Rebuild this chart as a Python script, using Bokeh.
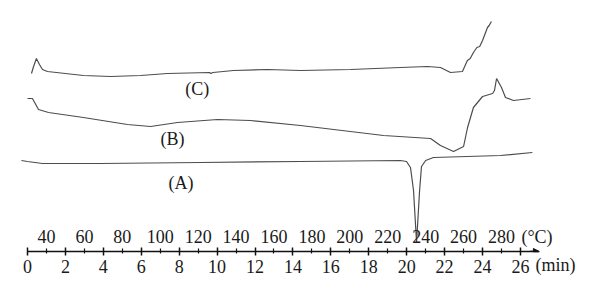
from bokeh.plotting import figure
from bokeh.models import Range1d, FixedTicker, Arrow, NormalHead, LinearAxis
from bokeh.core.properties import value
from bokeh.embed import file_html
from bokeh.resources import INLINE

# ---- data (time in min, heat-flow signal in arbitrary units, endo down) ----
a_time = [-0.32, 0.0, 0.79, 3.85, 9.12, 14.4, 19.67, 19.99, 20.2, 20.36, 20.52,
          20.68, 20.78, 21.0, 21.41, 24.95, 26.63]
a_sig = [91, 90, 88, 88, 89, 90, 91, 90, 84, 61, 9,
         61, 85, 91, 94, 96, 99]

b_time = [0.0, 0.26, 0.58, 1.11, 2.95, 5.27, 6.49, 7.91, 10.02, 11.76, 14.4,
          18.78, 21.26, 21.78, 22.47, 23.0, 23.21, 23.52, 24.0, 24.53, 24.63,
          24.74, 25.0, 25.21, 25.63, 26.53]
b_sig = [153, 153, 142, 139, 134, 127, 125, 129, 132, 131, 126,
         116, 113, 106, 100, 105, 124, 144, 155, 158, 161,
         173, 164, 154, 151, 153]

c_time = [0.21, 0.32, 0.47, 0.63, 0.79, 1.05, 2.95, 4.38, 5.96, 7.38, 9.6, 9.67,
          9.78, 10.87, 12.66, 14.4, 17.04, 19.67, 21.1, 21.78, 22.31, 22.94,
          23.2, 23.35, 23.52, 23.7, 23.85, 24.0, 24.1, 24.26, 24.35, 24.47]
c_sig = [178, 185, 193, 187, 182, 180, 176, 175, 176, 178, 179, 178,
         179, 181, 182, 181, 182, 184, 185, 184, 179, 180,
         191, 193, 199, 204, 205, 211, 216, 224, 226, 230]

curve_names = ["(A)", "(B)", "(C)"]
min_ticks = [0, 2, 4, 6, 8, 10, 12, 14, 16, 18, 20, 22, 24, 26]
temp_ticks = [40, 60, 80, 100, 120, 140, 160, 180, 200, 220, 240, 260, 280]
T_START = 30.0   # °C at t = 0
RATE = 10.0      # °C / min

# ---- figure ----
PX_PER_MIN = 18.96
X0 = 27
p = figure(width=600, height=299, output_backend="svg", toolbar_location=None,
           x_range=Range1d(-X0 / PX_PER_MIN, (600 - X0) / PX_PER_MIN),
           y_range=Range1d(0, 251),
           min_border_left=0, min_border_right=0, min_border_top=0, min_border_bottom=48,
           y_axis_location=None, x_axis_location="below")
p.outline_line_color = None
p.grid.visible = False
p.background_fill_color = "white"
p.border_fill_color = "white"

line_col = "#4d4d4d"
p.line(a_time, a_sig, line_color=line_col, line_width=1.2)
p.line(b_time, b_sig, line_color=line_col, line_width=1.2)
p.line(c_time, c_sig, line_color=line_col, line_width=1.2)

FONT = value("Liberation Serif")
FS = value("18px")
TXT = "#1a1a1a"
# curve labels
p.text(x=[8.1, 7.65, 8.95], y=[69, 113, 163], text=curve_names,
       text_font=FONT, text_font_size=FS, text_color=TXT,
       text_align="center", text_baseline="middle")

# temperature scale labels
temp_x = [(t - T_START) / RATE for t in temp_ticks]
p.text(x=temp_x, y=[15] * len(temp_x), text=[str(t) for t in temp_ticks],
       text_font=FONT, text_font_size=FS, text_color=TXT,
       text_align="center", text_baseline="middle")
p.text(x=[26.05], y=[15], text=["(°C)"], text_font=FONT, text_font_size=FS,
       text_color=TXT, text_align="left", text_baseline="middle")

# time axis
ax = p.xaxis[0]
ax.ticker = FixedTicker(ticks=min_ticks, minor_ticks=temp_x)
ax.bounds = (0, 26.95)
ax.axis_line_width = 1.5
ax.axis_line_color = "#111111"
ax.major_tick_line_color = "#111111"
ax.major_tick_line_width = 1.5
ax.major_tick_in = 4
ax.major_tick_out = 4
ax.minor_tick_line_color = "#111111"
ax.minor_tick_line_width = 1.2
ax.minor_tick_in = 3
ax.minor_tick_out = 2
ax.major_label_text_font = "Liberation Serif"
ax.major_label_text_font_size = "18px"
ax.major_label_text_color = TXT
ax.major_label_standoff = 4

# unit caption for the time axis, as a second (invisible) axis label
unit_ax = LinearAxis(ticker=FixedTicker(ticks=[27.85], minor_ticks=[]),
                     major_label_overrides={27.85: "(min)"})
unit_ax.axis_line_color = None
unit_ax.major_tick_line_color = None
unit_ax.minor_tick_line_color = None
unit_ax.major_tick_in = 0
unit_ax.major_tick_out = 0
unit_ax.major_label_text_font = "Liberation Serif"
unit_ax.major_label_text_font_size = "18px"
unit_ax.major_label_text_color = TXT
unit_ax.major_label_standoff = -21
p.add_layout(unit_ax, "below")

p.add_layout(Arrow(end=NormalHead(size=6, fill_color="#111111", line_color="#111111"),
                   x_start=26.5, y_start=0, x_end=27.0, y_end=0,
                   line_color="#111111", line_width=1.5))

open("out.html", "w").write(file_html(p, INLINE))
